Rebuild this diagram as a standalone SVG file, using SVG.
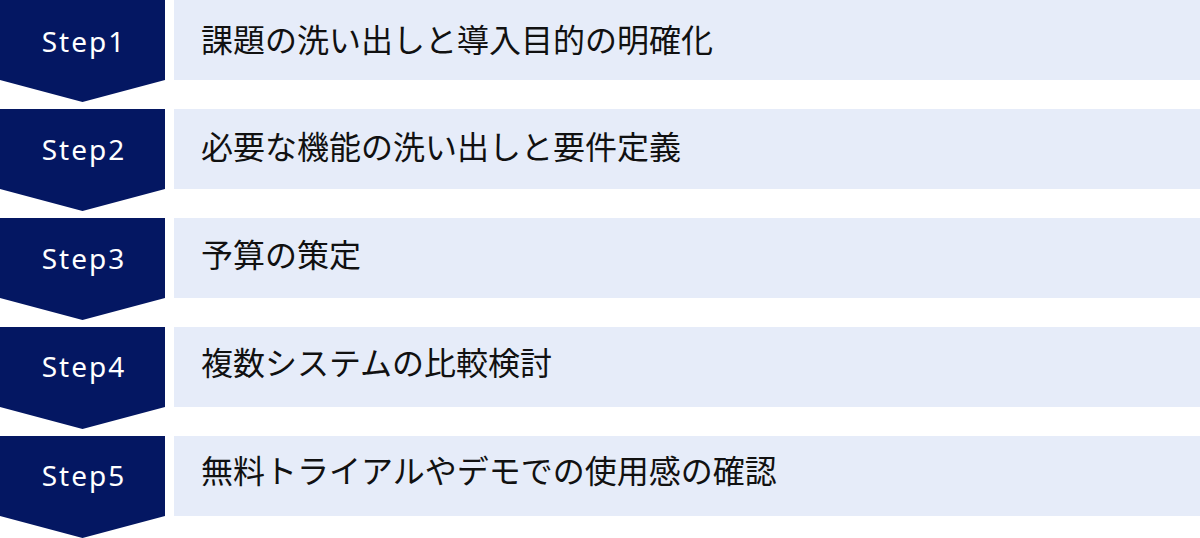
<svg xmlns="http://www.w3.org/2000/svg" width="1200" height="538" viewBox="0 0 1200 538">
<style>
.chev{fill:#041762}
.bar{fill:#E6ECF9}
.step{font-family:"Noto Sans","DejaVu Sans",sans-serif;font-size:28px;fill:#ffffff;letter-spacing:2px;text-anchor:middle}
.lbl{font-family:"Noto Sans CJK JP","Noto Sans",sans-serif;font-size:32px;fill:#111111}
</style>
<rect width="1200" height="538" fill="#ffffff"/>
<g id="connectors"></g>
<g id="step1">
<polygon class="chev" points="0,0 165,0 165,80 82.5,102 0,80"/>
<rect class="bar" x="174" y="0" width="1026" height="80"/>
<text class="step" x="84" y="51.5">Step1</text>
<text class="lbl" x="201" y="52">課題の洗い出しと導入目的の明確化</text>
</g>
<g id="step2">
<polygon class="chev" points="0,109 165,109 165,189 82.5,211 0,189"/>
<rect class="bar" x="174" y="109" width="1026" height="80"/>
<text class="step" x="84" y="160">Step2</text>
<text class="lbl" x="201" y="159">必要な機能の洗い出しと要件定義</text>
</g>
<g id="step3">
<polygon class="chev" points="0,218 165,218 165,298 82.5,320 0,298"/>
<rect class="bar" x="174" y="218" width="1026" height="80"/>
<text class="step" x="84" y="268.5">Step3</text>
<text class="lbl" x="201" y="267">予算の策定</text>
</g>
<g id="step4">
<polygon class="chev" points="0,327 165,327 165,407 82.5,429 0,407"/>
<rect class="bar" x="174" y="327" width="1026" height="80"/>
<text class="step" x="84" y="377">Step4</text>
<text class="lbl" x="201" y="375">複数システムの比較検討</text>
</g>
<g id="step5">
<polygon class="chev" points="0,436 165,436 165,516 82.5,538 0,516"/>
<rect class="bar" x="174" y="436" width="1026" height="80"/>
<text class="step" x="84" y="485.5">Step5</text>
<text class="lbl" x="201" y="483">無料トライアルやデモでの使用感の確認</text>
</g>
</svg>
